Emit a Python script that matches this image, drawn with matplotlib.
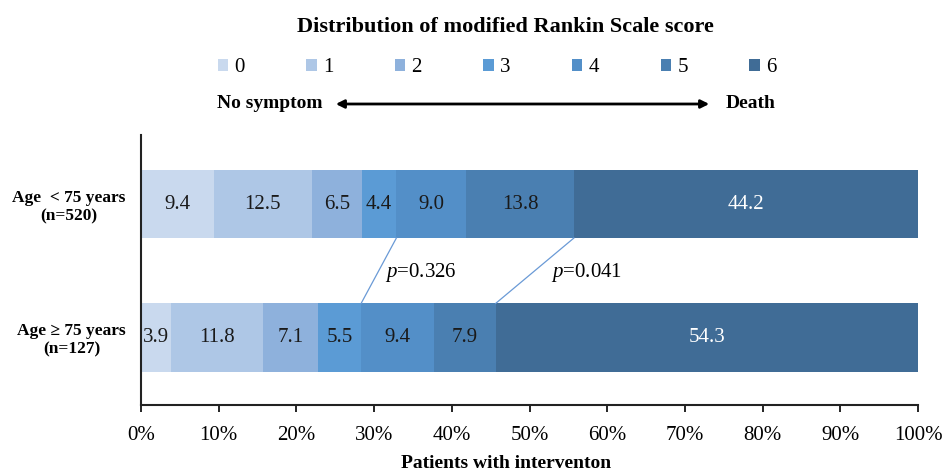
import matplotlib
matplotlib.use("Agg")
import matplotlib.pyplot as plt
import numpy as np
from matplotlib.patches import Patch

plt.rcParams['font.family'] = ['Liberation Serif', 'DejaVu Serif']
plt.rcParams['mathtext.fontset'] = 'custom'
plt.rcParams['mathtext.it'] = 'Liberation Serif:italic'
plt.rcParams['mathtext.rm'] = 'Liberation Serif'

groups = ["Age  < 75 years\n(n=520)", "Age \u2265 75 years\n(n=127)"]
scores = ["0", "1", "2", "3", "4", "5", "6"]
young = [9.4, 12.5, 6.5, 4.4, 9.0, 13.8, 44.2]
old = [3.9, 11.8, 7.1, 5.5, 9.4, 7.9, 54.3]
colors = ["#c9d9ee", "#aec7e6", "#8eb1dc", "#5b9bd5", "#538fc8", "#4a7fb1", "#406c96"]
p_values = ["0.326", "0.041"]
p_boundaries = [4, 6]  # boundary before score index
title = "Distribution of modified Rankin Scale score"
xlabel = "Patients with interventon"

fig = plt.figure(figsize=(9.44, 4.74), dpi=100)
ax = fig.add_axes([141/944, 1-405/474, (918-141)/944, (405-135)/474])

data = [old, young]  # y=0 bottom, y=1 top
ypos = [0, 1]
h = 0.51
lefts_all = []
for y, vals in zip(ypos, data):
    vals = np.array(vals, dtype=float)
    pct = vals / vals.sum() * 100
    lefts = np.concatenate([[0], np.cumsum(pct)[:-1]])
    lefts_all.append(np.concatenate([lefts, [100]]))
    for i, (l, w, v) in enumerate(zip(lefts, pct, vals)):
        ax.barh(y, w, left=l, height=h, color=colors[i], edgecolor='none')
        tc = 'white' if i == 6 else '#1a1a1a'
        ax.text(l + w/2, y, f"{v:.1f}", ha='center', va='center', fontsize=15, color=tc)

# p-value connector lines
for b, pv in zip(p_boundaries, p_values):
    x_top = lefts_all[1][b]
    x_bot = lefts_all[0][b]
    ax.plot([x_top, x_bot], [1 - h/2, 0 + h/2], color='#6a9ad6', lw=0.9)
pos_p = [(36.0, 0.49), (57.3, 0.49)]
for (px, py), pv in zip(pos_p, p_values):
    ax.text(px, py, r"$\mathit{p}$=" + pv, ha='center', va='center', fontsize=15)

ax.set_xlim(0, 100)
ax.set_ylim(-0.506, 1.517)
ax.set_xticks(np.arange(0, 101, 10))
ax.set_xticklabels([f"{t}%" for t in range(0, 101, 10)], fontsize=15)
ax.set_yticks(ypos)
ax.set_yticklabels(groups[::-1], fontsize=12.5, fontweight='bold', multialignment='center')
ax.tick_params(axis='y', length=0, pad=11)
ax.tick_params(axis='x', direction='out', length=5, width=1.2, pad=10)
for s in ['top', 'right']:
    ax.spines[s].set_visible(False)
ax.spines['left'].set_linewidth(1.5)
ax.spines['bottom'].set_linewidth(1.5)
ax.spines['left'].set_color('#222222')
ax.spines['bottom'].set_color('#222222')

fig.text(506/944, 1-464/474, xlabel, ha='center', va='center', fontsize=14, fontweight='bold')
fig.text(505/944, 1-27/474, title, ha='center', va='center', fontsize=16, fontweight='bold')

handles = [Patch(facecolor=c, edgecolor='none') for c in colors]
fig.legend(handles, scores, loc='center', bbox_to_anchor=(497/944, 1-68/474), ncol=7,
           frameon=False, fontsize=15, handlelength=0.5, handleheight=0.5,
           handletextpad=0.3, columnspacing=2.95)

fig.text(270/944, 1-104/474, "No symptom", ha='center', va='center', fontsize=14, fontweight='bold')
fig.text(751/944, 1-104/474, "Death", ha='center', va='center', fontsize=14, fontweight='bold')
ax.annotate('', xy=(712/944, 1-104/474), xytext=(333/944, 1-104/474),
            xycoords='figure fraction', textcoords='figure fraction',
            arrowprops=dict(arrowstyle='<|-|>', color='black', lw=2, mutation_scale=12))

fig.savefig("out.png", dpi=100)
